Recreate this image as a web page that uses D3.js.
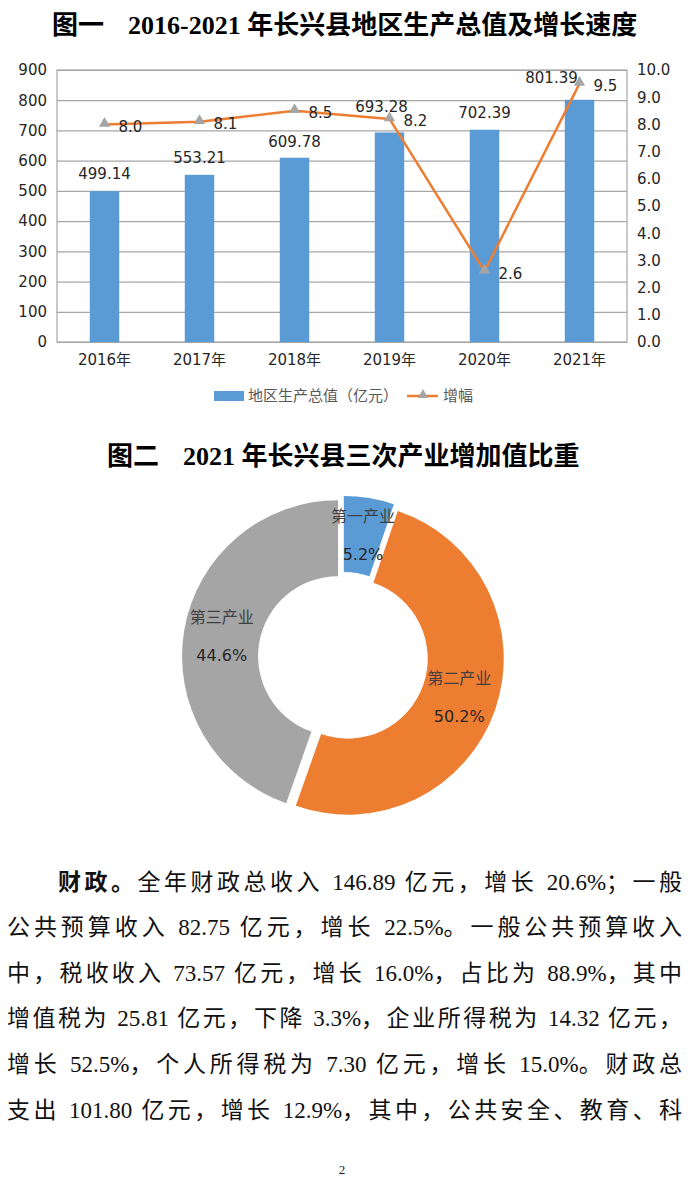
<!DOCTYPE html>
<html>
<head>
<meta charset="utf-8">
<script src="https://cdn.jsdelivr.net/npm/d3@7"></script>
<style>
  html, body { margin: 0; padding: 0; background: #fff; }
  svg { display: block; }
</style>
</head>
<body>
<svg id="chart" width="700" height="1180"></svg>
<script>
// ---------- data ----------
const years = ["2016年", "2017年", "2018年", "2019年", "2020年", "2021年"];
const gdpValues = [499.14, 553.21, 609.78, 693.28, 702.39, 801.39];
const growthValues = [8.0, 8.1, 8.5, 8.2, 2.6, 9.5];
const leftTicks = [0, 100, 200, 300, 400, 500, 600, 700, 800, 900];
const rightTicks = [0, 1, 2, 3, 4, 5, 6, 7, 8, 9, 10];
const seriesNames = ["地区生产总值（亿元）", "增幅"];

const industryNames = ["第一产业", "第二产业", "第三产业"];
const industryShares = [5.2, 50.2, 44.6];

const title1Prefix = "图一";
const title1Text = "2016-2021 年长兴县地区生产总值及增长速度";
const title2Prefix = "图二";
const title2Text = "2021 年长兴县三次产业增加值比重";

const paragraphLines = [
  ["财政。", "全年财政总收入 146.89 亿元，增长 20.6%；一般"],
  ["", "公共预算收入 82.75 亿元，增长 22.5%。一般公共预算收入"],
  ["", "中，税收收入 73.57 亿元，增长 16.0%，占比为 88.9%，其中"],
  ["", "增值税为 25.81 亿元，下降 3.3%，企业所得税为 14.32 亿元，"],
  ["", "增长 52.5%，个人所得税为 7.30 亿元，增长 15.0%。财政总"],
  ["", "支出 101.80 亿元，增长 12.9%，其中，公共安全、教育、科"]
];
const pageNumber = "2";

// ---------- style ----------
const C_BLUE = "#5B9BD5", C_ORANGE = "#ED7D31", C_GRAY = "#A5A5A5";
const GRID = "#A6A6A6";
const TXT = "#262626";
const NUMFONT = "'DejaVu Sans', Verdana, sans-serif";
const CJK = "'Noto Sans CJK SC', sans-serif";
const SERIF = "'Liberation Serif', 'Noto Sans CJK SC', serif";

const svg = d3.select("#chart");

// ---------- titles ----------
function title(prefix, text, x1, x2, y) {
  const t = svg.append("text").attr("y", y)
    .attr("font-family", SERIF).attr("font-weight", "bold")
    .attr("font-size", 26).attr("fill", "#000");
  t.append("tspan").attr("x", x1).text(prefix);
  t.append("tspan").attr("x", x2).text(text);
}
title(title1Prefix, title1Text, 52, 128, 34);
title(title2Prefix, title2Text, 107, 183, 465);

// ---------- chart 1 ----------
const L = 57, R = 627, T = 70, B = 342;
const x = d3.scaleBand().domain(years).range([L, R]).paddingInner(0.69).paddingOuter(0.345);
const yL = d3.scaleLinear().domain([0, 900]).range([B, T]);
const yR = d3.scaleLinear().domain([0, 10]).range([B, T]);
const cx = d => x(d) + x.bandwidth() / 2;

// gridlines
svg.append("g").attr("transform", `translate(${L},0)`)
  .call(d3.axisLeft(yL).tickValues(leftTicks).tickSize(-(R - L)).tickFormat(""))
  .call(g => g.select(".domain").remove())
  .call(g => g.selectAll("line").attr("stroke", GRID).attr("stroke-width", 1.2));
// plot border
svg.append("rect").attr("x", L).attr("y", T).attr("width", R - L).attr("height", B - T)
  .attr("fill", "none").attr("stroke", GRID).attr("stroke-width", 1.2);

// left axis
svg.append("g").attr("transform", `translate(${L},0)`)
  .call(d3.axisLeft(yL).tickValues(leftTicks).tickSize(0).tickPadding(10))
  .call(g => g.select(".domain").remove())
  .call(g => g.selectAll("text").attr("font-family", NUMFONT).attr("font-size", 15).attr("fill", TXT));
// right axis
svg.append("g").attr("transform", `translate(${R},0)`)
  .call(d3.axisRight(yR).tickValues(rightTicks).tickSize(0).tickPadding(10).tickFormat(d3.format(".1f")))
  .call(g => g.select(".domain").remove())
  .call(g => g.selectAll("text").attr("font-family", NUMFONT).attr("font-size", 15).attr("fill", TXT));
// bottom axis
svg.append("g").attr("transform", `translate(0,${B})`)
  .call(d3.axisBottom(x).tickSize(0).tickPadding(12))
  .call(g => g.select(".domain").remove())
  .call(g => g.selectAll("text").attr("font-family", "'DejaVu Sans', 'Noto Sans CJK SC', sans-serif")
    .attr("font-size", 15).attr("fill", TXT));

// bars
svg.append("g").selectAll("rect").data(years).join("rect")
  .attr("x", d => x(d)).attr("width", x.bandwidth())
  .attr("y", (d, i) => yL(gdpValues[i])).attr("height", (d, i) => B - yL(gdpValues[i]))
  .attr("fill", C_BLUE);

// bar labels (small nudges to mimic the original's placement)
const barLabelNudge = [[0, 12], [0, 12], [0, 11], [-8, 20], [0, 12], [-28, 17]];
svg.append("g").selectAll("text").data(years).join("text")
  .attr("x", (d, i) => cx(d) + barLabelNudge[i][0])
  .attr("y", (d, i) => yL(gdpValues[i]) - barLabelNudge[i][1])
  .attr("text-anchor", "middle")
  .attr("font-family", NUMFONT).attr("font-size", 15).attr("fill", TXT)
  .text((d, i) => d3.format(".2f")(gdpValues[i]));

// growth line
const line = d3.line().x((d, i) => cx(years[i])).y(d => yR(d));
svg.append("path").datum(growthValues).attr("d", line)
  .attr("fill", "none").attr("stroke", C_ORANGE).attr("stroke-width", 2.5)
  .attr("stroke-linejoin", "round");
const tri = d3.symbol().type(d3.symbolTriangle).size(55);
svg.append("g").selectAll("path").data(growthValues).join("path")
  .attr("d", tri)
  .attr("transform", (d, i) => `translate(${cx(years[i])},${yR(d) - 1})`)
  .attr("fill", C_GRAY);
svg.append("g").selectAll("text").data(growthValues).join("text")
  .attr("x", (d, i) => cx(years[i]) + 14)
  .attr("y", d => yR(d) + 2)
  .attr("dy", "0.35em")
  .attr("font-family", NUMFONT).attr("font-size", 15).attr("fill", TXT)
  .text(d => d3.format(".1f")(d));

// legend
const lg = svg.append("g");
lg.append("rect").attr("x", 214).attr("y", 391).attr("width", 30).attr("height", 10).attr("fill", C_BLUE);
lg.append("text").attr("x", 248).attr("y", 396).attr("dy", "0.35em")
  .attr("font-family", CJK).attr("font-size", 15).attr("fill", "#595959").text(seriesNames[0]);
lg.append("line").attr("x1", 407).attr("x2", 438).attr("y1", 396).attr("y2", 396)
  .attr("stroke", C_ORANGE).attr("stroke-width", 2.5);
lg.append("path").attr("d", d3.symbol().type(d3.symbolTriangle).size(45))
  .attr("transform", "translate(423,395)").attr("fill", C_GRAY);
lg.append("text").attr("x", 443).attr("y", 396).attr("dy", "0.35em")
  .attr("font-family", CJK).attr("font-size", 15).attr("fill", "#595959").text(seriesNames[1]);

// ---------- chart 2: donut ----------
const DX = 343, DY = 657, RIN = 80, ROUT = 156, EXPLODE = 5;
const pie = d3.pie().sort(null).value(d => d);
const arcs = pie(industryShares);
const arc = d3.arc().innerRadius(RIN).outerRadius(ROUT);
const pieColors = [C_BLUE, C_ORANGE, C_GRAY];
const dg = svg.append("g").attr("transform", `translate(${DX},${DY})`);
const off = a => {
  const m = (a.startAngle + a.endAngle) / 2;
  return [EXPLODE * Math.sin(m), -EXPLODE * Math.cos(m)];
};
dg.selectAll("path").data(arcs).join("path")
  .attr("d", arc)
  .attr("transform", a => `translate(${off(a)[0]},${off(a)[1]})`)
  .attr("fill", (a, i) => pieColors[i]);
const labelArc = d3.arc().innerRadius(118).outerRadius(118);
const lbl = dg.selectAll("g.lbl").data(arcs).join("g").attr("class", "lbl")
  .attr("transform", a => {
    const c = labelArc.centroid(a), o = off(a);
    return `translate(${c[0] + o[0]},${c[1] + o[1]})`;
  });
lbl.append("text").attr("text-anchor", "middle").attr("y", -19).attr("dy", "0.35em")
  .attr("font-family", CJK).attr("font-size", 16).attr("fill", "#404040")
  .text((a, i) => industryNames[i]);
lbl.append("text").attr("text-anchor", "middle").attr("y", 19).attr("dy", "0.35em")
  .attr("font-family", NUMFONT).attr("font-size", 16).attr("fill", TXT)
  .text(a => d3.format(".1f")(a.data) + "%");

// ---------- paragraph (justified by spacing CJK characters and spaces only) ----------
const baselines = [890, 935, 981, 1026, 1072, 1118];
const RIGHT_EDGE = 682;
paragraphLines.forEach((ln, i) => {
  const x0 = i === 0 ? 58 : 7;
  const t = svg.append("text").attr("x", x0).attr("y", baselines[i])
    .attr("font-family", SERIF).attr("font-size", 23).attr("fill", "#111");
  const segs = [];
  if (ln[0]) segs.push({ s: ln[0], bold: true, stretch: true });
  (ln[1].match(/ +|[\x21-\x7F]+|[^\x00-\x7F]+/g) || []).forEach(s =>
    segs.push({ s, bold: false, stretch: !/^[\x21-\x7F]+$/.test(s) }));
  const spans = segs.map(sg => t.append("tspan")
    .attr("font-weight", sg.bold ? "bold" : "normal").text(sg.s));
  const W = t.node().getComputedTextLength();
  let n = 0;
  segs.forEach((sg, k) => {
    if (sg.stretch) n += sg.s.length - (k === segs.length - 1 ? 1 : 0);
  });
  const ls = Math.max(0, (RIGHT_EDGE - x0 - W) / Math.max(1, n));
  segs.forEach((sg, k) => { if (sg.stretch) spans[k].attr("letter-spacing", ls); });
});
svg.append("text").attr("x", 342).attr("y", 1174).attr("text-anchor", "middle")
  .attr("font-family", SERIF).attr("font-size", 13).attr("fill", "#222").text(pageNumber);
</script>
</body>
</html>
